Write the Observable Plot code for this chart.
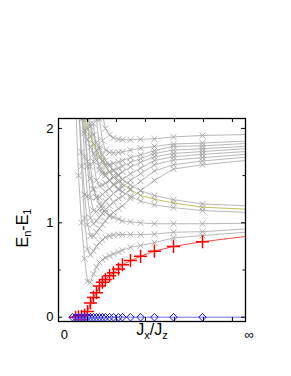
<!DOCTYPE html>
<html>
<head>
<meta charset="utf-8">
<script src="https://cdn.jsdelivr.net/npm/d3@7"></script>
<script src="https://cdn.jsdelivr.net/npm/@observablehq/plot@0.6"></script>
<style>
  html, body { margin: 0; padding: 0; background: #fff; }
  #chart svg { display: block; }
</style>
</head>
<body>
<div id="chart"></div>
<script>
// Sample positions on the compressed J_x/J_z axis (0 -> 0, 1 -> infinity)
const xPos = [0.075, 0.091, 0.107, 0.123, 0.139, 0.155, 0.171, 0.187, 0.203, 0.219, 0.235,
              0.251, 0.273, 0.294, 0.321, 0.342, 0.385, 0.439, 0.513, 0.615, 0.770, 1.0];

const blueLevel = [0,0,0,0,0,0,0,0,0,0,0,0,0,0,0,0,0,0,0,0,0,0];
const redLevel  = [null,0.0,0.005,0.01,0.02,0.06,0.15,0.21,0.26,0.33,0.37,0.40,0.44,0.47,0.51,0.555,0.60,0.645,0.70,0.75,0.80,0.855];
const oliveLevel = [null,null,null,2.3,2.12,2.0,1.92,1.84,1.77,1.71,1.65,1.6,1.54,1.5,1.45,1.41,1.35,1.29,1.25,1.21,1.165,1.145];

const grayC1 = [null,2.3,1.5,1.0,0.62,0.38,0.37,0.46,0.53,0.58,0.61,0.63,0.65,0.67,0.69,0.71,0.74,0.76,0.79,0.84,0.865,0.90];
const grayC2 = [null,null,2.3,1.6,1.05,0.72,0.66,0.70,0.75,0.79,0.82,0.845,0.86,0.87,0.875,0.875,0.875,0.875,0.88,0.90,0.906,0.935];
const grayC3 = [null,null,null,2.4,1.95,1.65,1.47,1.36,1.27,1.2,1.15,1.11,1.08,1.06,1.04,1.02,1.01,1.0,0.99,0.99,0.99,0.995];
const grayD1 = [null,null,null,null,2.3,2.12,2.02,1.93,1.85,1.78,1.72,1.66,1.6,1.55,1.5,1.46,1.40,1.34,1.29,1.245,1.20,1.18];
const grayD2 = [null,null,2.3,2.1,1.98,1.88,1.8,1.73,1.66,1.6,1.55,1.5,1.45,1.41,1.36,1.33,1.28,1.23,1.19,1.16,1.13,1.11];
const grayT9 = [null,null,2.3,1.75,1.3,0.98,0.86,0.86,0.9,0.94,0.98,1.02,1.07,1.11,1.15,1.18,1.26,1.34,1.45,1.57,1.615,1.66];
const grayT8 = [null,null,null,2.25,1.7,1.28,1.05,0.99,1.02,1.06,1.1,1.14,1.18,1.22,1.26,1.28,1.36,1.44,1.55,1.615,1.655,1.695];
const grayT7 = [null,null,null,null,2.15,1.6,1.27,1.13,1.12,1.15,1.19,1.23,1.27,1.31,1.35,1.38,1.45,1.52,1.615,1.665,1.69,1.725];
const grayT6 = [null,null,null,null,null,2.1,1.6,1.35,1.27,1.27,1.3,1.33,1.36,1.4,1.43,1.46,1.52,1.58,1.66,1.70,1.725,1.755];
const grayT5 = [null,null,null,null,null,null,2.05,1.65,1.45,1.39,1.4,1.42,1.45,1.48,1.51,1.54,1.59,1.64,1.70,1.735,1.755,1.785];
const grayT4 = [null,null,null,null,null,null,null,2.05,1.72,1.56,1.52,1.52,1.54,1.56,1.58,1.60,1.64,1.68,1.735,1.77,1.785,1.81];
const grayT3 = [null,null,null,null,null,null,null,null,2.1,1.8,1.66,1.62,1.62,1.63,1.645,1.66,1.69,1.72,1.765,1.81,1.815,1.84];
const grayT2 = [null,null,null,null,null,null,null,null,null,2.1,1.87,1.77,1.745,1.74,1.745,1.75,1.77,1.79,1.81,1.835,1.845,1.865];
const grayT1 = [null,null,null,null,null,null,null,null,null,null,2.15,2.0,1.93,1.90,1.885,1.88,1.88,1.885,1.89,1.91,1.925,1.935];

const grayLevels = [grayC1, grayC2, grayC3, grayD1, grayD2, grayT9, grayT8, grayT7, grayT6, grayT5, grayT4, grayT3, grayT2, grayT1];

const yTickLabels = [0, 1, 2];
const yMajor = [0, 1, 2];
const yMinor = [0.5, 1.5];
const xTicks = [0.155, 0.31, 0.465, 0.62, 0.775, 0.93];
const xTickLabels = [{x: 0.032, text: "0"}, {x: 1.02, text: "\u221E"}];

// ---- build tables ----
function toRows(vals, id) {
  const rows = [];
  vals.forEach((v, i) => { if (v !== null && v !== undefined) rows.push({x: xPos[i], y: v, id, last: i === xPos.length - 1}); });
  return rows;
}
const grayRows = grayLevels.flatMap((c, k) => toRows(c, "g" + k));
const oliveRows = toRows(oliveLevel, "olive");
const redRows = toRows(redLevel, "red");
const blueRows = toRows(blueLevel, "blue");
const markers = rows => rows.filter(d => !d.last);

const yDom = [-0.0455, 2.105];
const pxX = 187, pxY = 94.4;

const chart = Plot.plot({
  width: 291,
  height: 376,
  marginLeft: 58,
  marginRight: 46,
  marginTop: 118,
  marginBottom: 55,
  x: {domain: [0, 1], axis: null},
  y: {domain: yDom, axis: null},
  style: {background: "white", fontFamily: "'Liberation Sans', Arial, sans-serif"},
  marks: [
    Plot.line(grayRows, {x: "x", y: "y", z: "id", stroke: "#a6a6a6", strokeWidth: 0.8, clip: true}),
    Plot.dot(markers(grayRows), {x: "x", y: "y", symbol: "times", r: 2.8, stroke: "#999", strokeWidth: 0.8, clip: true}),
    Plot.line(oliveRows, {x: "x", y: "y", stroke: "#b8b84a", strokeWidth: 0.9, clip: true}),
    Plot.dot(markers(oliveRows), {x: "x", y: "y", symbol: "times", r: 2.8, stroke: "#999", strokeWidth: 0.8, clip: true}),
    Plot.line(redRows, {x: "x", y: "y", stroke: "#ff3030", strokeWidth: 0.9, clip: true}),
    Plot.dot(markers(redRows), {x: "x", y: "y", symbol: "plus", r: 4.3, stroke: "#ff0000", strokeWidth: 1.5, clip: true}),
    Plot.line(blueRows, {x: "x", y: "y", stroke: "#7070ff", strokeWidth: 1.0, clip: true}),
    Plot.dot(markers(blueRows), {x: "x", y: "y", symbol: "diamond2", r: 3.4, stroke: "#1010ff", strokeWidth: 1.0, fill: "none", clip: true}),
    Plot.frame({stroke: "black", strokeWidth: 1.3}),
    Plot.ruleY(yMajor, {x1: 0, x2: 4 / pxX, stroke: "black", strokeWidth: 1}),
    Plot.ruleY(yMinor, {x1: 0, x2: 2.5 / pxX, stroke: "black", strokeWidth: 1}),
    Plot.ruleY(yMajor, {x1: 1 - 4 / pxX, x2: 1, stroke: "black", strokeWidth: 1}),
    Plot.ruleY(yMinor, {x1: 1 - 2.5 / pxX, x2: 1, stroke: "black", strokeWidth: 1}),
    Plot.ruleX(xTicks, {y1: yDom[1], y2: yDom[1] - 4 / pxY, stroke: "black", strokeWidth: 1}),
    Plot.ruleX(xTicks, {y1: yDom[0], y2: yDom[0] + 4 / pxY, stroke: "black", strokeWidth: 1}),
    Plot.text(yTickLabels, {y: d => d, text: d => String(d), frameAnchor: "left", dx: -5, textAnchor: "end", fontSize: 13, fill: "black"}),
    Plot.text(xTickLabels, {x: "x", text: "text", frameAnchor: "bottom", dy: 13, fontSize: 13, fill: "black", lineAnchor: "middle"})
  ]
});

const svg = d3.select(chart);
// y-axis title E_n - E_1
const yl = svg.append("text")
  .attr("transform", "translate(28,228) rotate(-90)")
  .attr("text-anchor", "middle")
  .attr("font-family", "'Liberation Sans', Arial, sans-serif")
  .attr("font-size", 16)
  .attr("fill", "black");
yl.append("tspan").text("E");
yl.append("tspan").attr("font-size", 11).attr("dy", 3).text("n");
yl.append("tspan").attr("dy", -3).text("-E");
yl.append("tspan").attr("font-size", 11).attr("dy", 3).text("1");
// x-axis title J_x / J_z
const xl = svg.append("text")
  .attr("x", 152).attr("y", 335)
  .attr("text-anchor", "middle")
  .attr("font-family", "'Liberation Sans', Arial, sans-serif")
  .attr("font-size", 16)
  .attr("fill", "black");
xl.append("tspan").text("J");
xl.append("tspan").attr("font-size", 11).attr("dy", 4).text("x");
xl.append("tspan").attr("dy", -4).text("/J");
xl.append("tspan").attr("font-size", 11).attr("dy", 4).text("z");

document.getElementById("chart").appendChild(chart);
</script>
</body>
</html>
